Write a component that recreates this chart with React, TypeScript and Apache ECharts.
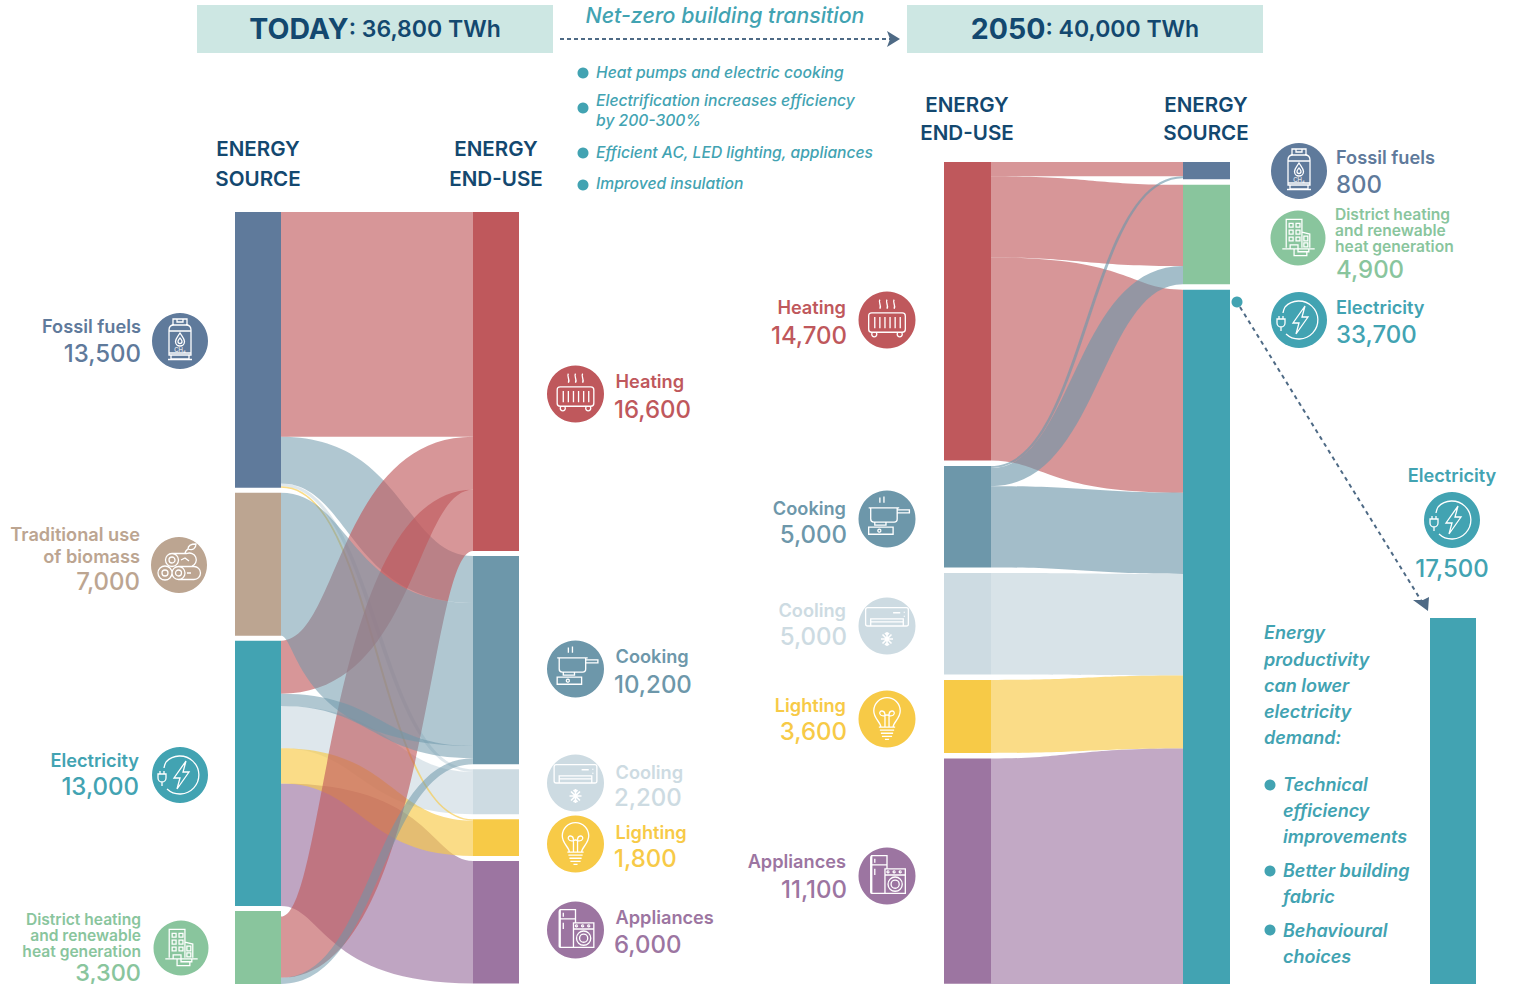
import React, { useEffect, useRef } from "react";
import * as echarts from "echarts";

const FONT = "Inter";
const NAVY = "#13486F";
const TEAL = "#42A3B2";
const ARROW = "#4E6A85";

const colors: Record<string, string> = {
  fossil: "#5F7A9B",
  biomass: "#BCA591",
  electricity: "#42A3B2",
  district: "#89C59D",
  heating: "#BF585C",
  cooking: "#6D97AA",
  cooling: "#CDDBE2",
  lighting: "#F7CA47",
  appliances: "#9C75A1",
};

const todayOpacity: Record<string, number> = {
  heating: 0.63,
  cooking: 0.54,
  cooling: 0.66,
  lighting: 0.65,
  appliances: 0.65,
};
const futureOpacity: Record<string, number> = {
  heating: 0.63,
  cooking: 0.63,
  cooling: 0.78,
  lighting: 0.65,
  appliances: 0.62,
};

// Nodes: [key, drawn height value]. The reference draws some bars a little taller than their links add up to.
const todaySourceNodes: [string, number][] = [
  ["fossil", 13500],
  ["biomass", 7000],
  ["electricity", 13000],
  ["district", 3570],
];
const todayUseNodes: [string, number][] = [
  ["heating", 16600],
  ["cooking", 10200],
  ["cooling", 2200],
  ["lighting", 1800],
  ["appliances", 6000],
];
const futureUseNodes: [string, number][] = [
  ["heating", 14700],
  ["cooking", 5000],
  ["cooling", 5000],
  ["lighting", 3600],
  ["appliances", 11100],
];
const futureSourceNodes: [string, number][] = [
  ["fossil", 850],
  ["district", 4900],
  ["electricity", 34200],
];

// Links in drawing order: later ones lie on top
const todayLinks: [string, string, number][] = [
  ["electricity", "appliances", 6000],
  ["electricity", "cooling", 2070],
  ["electricity", "lighting", 1730],
  ["fossil", "cooling", 130],
  ["fossil", "lighting", 70],
  ["fossil", "cooking", 2300],
  ["fossil", "heating", 11000],
  ["electricity", "heating", 2600],
  ["district", "heating", 3000],
  ["biomass", "cooking", 7000],
  ["electricity", "cooking", 600],
  ["district", "cooking", 300],
];
const futureLinks: [string, string, number][] = [
  ["heating", "fossil", 700],
  ["heating", "district", 4000],
  ["heating", "electricity", 10000],
  ["cooking", "fossil", 100],
  ["cooking", "district", 900],
  ["cooking", "electricity", 4000],
  ["cooling", "electricity", 5000],
  ["lighting", "electricity", 3600],
  ["appliances", "electricity", 11100],
];
// The appliances band is drawn wider than its value: it reaches the foot of the taller electricity bar
const futureBandExtra: Record<string, number> = { appliances: 500 };
// In the reference the biomass band's upper edge runs along the fossil band's lower edge
const todaySharedEdges: Record<string, string> = { "biomass>cooking": "fossil>cooking" };

const demandCategories = ["Electricity"];
const demandValues = [17500];

const bullets = [
  "Heat pumps and electric cooking",
  "Electrification increases efficiency",
  "by 200-300%",
  "Efficient AC, LED lighting, appliances",
  "Improved insulation",
];
const productivityLines = ["Energy", "productivity", "can lower", "electricity", "demand:"];
const productivityBullets = ["Technical", "efficiency", "improvements", "Better building", "fabric", "Behavioural", "choices"];

const iconPaths: Record<string, string> = {
  tank:
    "M-11 -11Q-11 -16 -6 -16H6Q11 -16 11 -11V14H-11ZM-7 -16V-22H7V-16M-3 -22V-19H3V-22M-11 -10H11M-11 12H11M-9 14V18H9V14M-12 18.5H12M0 -8C2.5 -4 4.5 -2.5 4.5 0.5A4.5 4.5 0 0 1 -4.5 0.5C-4.5 -2.5 -2.5 -4 0 -8ZM0 -3C1 -1.5 2 -1 2 0.5A2 2 0 0 1 -2 0.5C-2 -1 -1 -1.5 0 -3Z",
  logs:
    "M-7 8A7 7 0 1 1 -21 8A7 7 0 1 1 -7 8ZM-11 8A3 3 0 1 1 -17 8A3 3 0 1 1 -11 8ZM6 8A6.5 6.5 0 1 1 -7 8A6.5 6.5 0 1 1 6 8ZM2.5 8A3 3 0 1 1 -3.5 8A3 3 0 1 1 2.5 8ZM-1 1.5H15A6.5 6.5 0 0 1 15 14.5H-1M8 8H12M-0.5 -5A6.5 6.5 0 1 1 -13.5 -5A6.5 6.5 0 1 1 -0.5 -5ZM-4 -5A3 3 0 1 1 -10 -5A3 3 0 1 1 -4 -5ZM-7 -11.5H8A6 6 0 0 1 13 1M2 -5L6 -7L10 -4M6 -12C7 -15 8 -15 9 -16M9 -16C9 -20 13 -21 17 -21C17 -17 14 -14 9 -16Z",
  power:
    "M-14 -13A19 19 0 1 1 -13 14M-16 -7A19 19 0 0 1 -14 -13M6 -14L-6 3H0L-3 14L9 -3H3ZM-22 -1H-14V3A4 4 0 0 1 -22 3ZM-20 -1V-4M-16 -1V-4M-18 7V11",
  building:
    "M-12 10V-19H4V10M-9 -15H-5V-11H-9ZM-2 -15H2V-11H-2ZM-9 -8H-5V-4H-9ZM-2 -8H2V-4H-2ZM-9 -1H-5V3H-9ZM-2 -1H2V3H-2ZM4 -6L12 -4V10M6 -2H10V3H6ZM6 5H10V9H6ZM-16 11H17M-8 11V7H0V14H11V11M-4 11V18H9V14",
  radiator:
    "M-15 -7H15Q18 -7 18 -4V9Q18 12 15 12H-15Q-18 12 -18 9V-4Q-18 -7 -15 -7ZM-12 -3V8M-7 -3V8M-2 -3V8M3 -3V8M8 -3V8M13 -3V8M-14 12A2.5 2.5 0 1 0 -11 12M11 12A2.5 2.5 0 1 0 14 12M-7 -20C-9 -17 -5 -15 -7 -11M0 -20C-2 -17 2 -15 0 -11M7 -20C5 -17 9 -15 7 -11",
  stove:
    "M-16 -11H10V0Q10 3 7 3H-13Q-16 3 -16 0ZM-18 -11H12M10 -9H22V-6H10M-7 -21V-16M-3 -22V-16M-18 8H6V15H-18ZM-12 3V6H-1V3M-6 11.5A1.5 1.5 0 1 1 -6 11.4",
  ac:
    "M-19 -18H19Q21 -18 21 -16V-2Q21 0 19 0H-19Q-21 0 -21 -2V-16Q-21 -18 -19 -18ZM-16 0V-7H16V0M-16 -4H16M6 -13H13M17 -14V-13M17 -10V-9",
  bulb:
    "M-6 8C-6 3 -13 0 -13 -8A13 13 0 0 1 13 -8C13 0 6 3 6 8ZM-2 8V-4C-2 -9 -8 -9 -7 -5C-6 -2 -2 -3 0 -4C2 -3 6 -2 7 -5C8 -9 2 -9 2 -4V8M-8 8H8M-7 11H7M-6 14H6M-5 17H5M-2 20H2",
  appliances:
    "M-15 -20H0V-11H-15ZM-15 -11V17H-2M-15 -20Q-16 -20 -16 -18V16Q-16 17 -15 17M0 -20V-7M-12 -17V-13M-12 -7V-1M-2 -7H18V17H-2ZM-2 -1H18M2 -4A1 1 0 1 1 2 -4.1M8 -4A1 1 0 1 1 8 -4.1M14 -4A1 1 0 1 1 14 -4.1M15 8A7 7 0 1 1 1 8A7 7 0 1 1 15 8ZM12 8A4 4 0 1 1 4 8A4 4 0 1 1 12 8Z",
};
const snowflake = "M0 6V20M-6 13H6M-4.5 8.5L4.5 17.5M-4.5 17.5L4.5 8.5M-2 7L0 9L2 7M-2 19L0 17L2 19";

Object.keys(iconPaths).forEach((k) => {
  echarts.graphic.registerShape("ico_" + k, echarts.graphic.extendPath(iconPaths[k], {}));
});
echarts.graphic.registerShape("ico_snow", echarts.graphic.extendPath(snowflake, {}));

const txt = (
  text: string,
  x: number,
  y: number,
  fontSize: number,
  fill: string,
  align = "left",
  fontWeight: any = 500,
  fontStyle = "normal"
) => ({
  type: "text",
  x,
  y,
  silent: true,
  style: { text, fontFamily: FONT, fontSize, fill, align, verticalAlign: "middle", fontWeight, fontStyle },
});
const NAME_SIZE = 18.2;
const NAME_WEIGHT = 600;
const name = (text: string, x: number, y: number, fill: string, align = "left") =>
  txt(text, x, y, NAME_SIZE, fill, align, NAME_WEIGHT);
const small = (text: string, x: number, y: number, fill: string, align = "left") =>
  txt(text, x, y, 15.6, fill, align, 600);

const icon = (key: string, ic: string, x: number, y: number, r = 28) => {
  const c = colors[key];
  const s = r / 28;
  const stroke = { fill: "none", stroke: "#fff", lineWidth: 1.3 };
  const els: any[] = [
    { type: "circle", shape: { cx: x, cy: y, r }, style: { fill: c }, silent: true },
    { type: "ico_" + ic, x, y, scaleX: s, scaleY: s, style: stroke, silent: true },
  ];
  if (ic === "tank") els.push(txt("CH₄", x, y + 8, 6, "#fff", "center", 400));
  if (ic === "ac") els.push({ type: "ico_snow", x, y, style: { fill: "none", stroke: "#fff", lineWidth: 1.6 }, silent: true });
  return els;
};

const dot = (cx: number, cy: number, r = 5) => ({
  type: "circle",
  shape: { cx, cy, r },
  style: { fill: TEAL },
  silent: true,
});

const buildGraphics = () => {
  const els: any[] = [];
  const band = (x: number) => ({
    type: "rect",
    shape: { x, y: 5, width: 356, height: 48 },
    style: { fill: "#CDE7E3" },
    silent: true,
  });
  const head = (a: string, b: string, x: number) => ({
    type: "text",
    x,
    y: 28.5,
    silent: true,
    style: {
      text: `{a|${a}}{b|: ${b}}`,
      align: "center",
      verticalAlign: "middle",
      rich: {
        a: { fontFamily: FONT, fontSize: 28.5, fontWeight: 700, fill: NAVY, color: NAVY },
        b: { fontFamily: FONT, fontSize: 23, fontWeight: 600, fill: NAVY, color: NAVY },
      },
    },
  });
  els.push(band(197), band(907), head("TODAY", "36,800 TWh", 375), head("2050", "40,000 TWh", 1085));

  els.push(txt("Net-zero building transition", 725, 15, 21.3, TEAL, "center", 500, "italic"));
  els.push({ type: "line", shape: { x1: 560, y1: 39, x2: 890, y2: 39 }, style: { stroke: ARROW, lineWidth: 2, lineDash: [4, 3] }, silent: true });
  els.push({ type: "polygon", shape: { points: [[887, 31], [900, 39], [887, 47], [890, 39]] }, style: { fill: ARROW }, silent: true });

  // Transition notes
  const bulletY = [72.5, 100, 120, 152, 183.5];
  bullets.forEach((b, i) => els.push(txt(b, 596, bulletY[i], 15.65, TEAL, "left", 500, "italic")));
  [73, 108, 153, 185].forEach((y) => els.push(dot(583, y, 5.5)));

  // Column headers
  const columns: [string, string, number, number, number][] = [
    ["ENERGY", "SOURCE", 258, 148.5, 29.5],
    ["ENERGY", "END-USE", 496, 148.5, 29.5],
    ["ENERGY", "END-USE", 967, 104, 28],
    ["ENERGY", "SOURCE", 1206, 104, 28],
  ];
  columns.forEach(([a, b, x, y, lead]) => {
    els.push(txt(a, x, y, 20.6, NAVY, "center", 600), txt(b, x, y + lead, 20.6, NAVY, "center", 600));
  });

  // Today: sources
  els.push(name("Fossil fuels", 141, 326, colors.fossil, "right"), txt("13,500", 141, 353, 24, colors.fossil, "right"));
  els.push(...icon("fossil", "tank", 180, 341));
  els.push(
    name("Traditional use", 140, 533.5, colors.biomass, "right"),
    name("of biomass", 140, 555.5, colors.biomass, "right"),
    txt("7,000", 140, 581.5, 24, colors.biomass, "right")
  );
  els.push(...icon("biomass", "logs", 179, 565));
  els.push(name("Electricity", 139, 760, colors.electricity, "right"), txt("13,000", 139, 786, 24, colors.electricity, "right"));
  els.push(...icon("electricity", "power", 180, 775));
  els.push(
    small("District heating", 141, 919, colors.district, "right"),
    small("and renewable", 141, 935, colors.district, "right"),
    small("heat generation", 141, 951, colors.district, "right"),
    txt("3,300", 141, 972.5, 23.5, colors.district, "right")
  );
  els.push(...icon("district", "building", 181, 948, 27.5));

  // Today: end uses
  const midRows: [string, string, string, string, number, number, number][] = [
    ["heating", "radiator", "Heating", "16,600", 394, 381, 409],
    ["cooking", "stove", "Cooking", "10,200", 669, 656, 684],
    ["cooling", "ac", "Cooling", "2,200", 783, 772, 797],
    ["lighting", "bulb", "Lighting", "1,800", 844, 832, 858],
    ["appliances", "appliances", "Appliances", "6,000", 930, 917, 944],
  ];
  midRows.forEach(([k, ic, label, val, cy, y1, y2]) => {
    els.push(...icon(k, ic, 575.5, cy, 28.5));
    els.push(name(label, 615.5, y1, colors[k]), txt(val, 614, y2, 24, colors[k]));
  });

  // 2050: end uses
  const rightRows: [string, string, string, string, number, number, number][] = [
    ["heating", "radiator", "Heating", "14,700", 320, 307, 335],
    ["cooking", "stove", "Cooking", "5,000", 519, 508, 534],
    ["cooling", "ac", "Cooling", "5,000", 626, 610, 636],
    ["lighting", "bulb", "Lighting", "3,600", 719, 705, 731],
    ["appliances", "appliances", "Appliances", "11,100", 876, 861, 889],
  ];
  rightRows.forEach(([k, ic, label, val, cy, y1, y2]) => {
    els.push(...icon(k, ic, 887, cy, 28.5));
    els.push(name(label, 846, y1, colors[k], "right"), txt(val, 847, y2, 24, colors[k], "right"));
  });

  // 2050: sources
  els.push(...icon("fossil", "tank", 1299, 171));
  els.push(name("Fossil fuels", 1336, 157, colors.fossil), txt("800", 1336, 184, 24, colors.fossil));
  els.push(...icon("district", "building", 1298, 238, 27.5));
  els.push(
    small("District heating", 1335, 214, colors.district),
    small("and renewable", 1335, 230, colors.district),
    small("heat generation", 1335, 246, colors.district),
    txt("4,900", 1336, 269, 24, colors.district)
  );
  els.push(...icon("electricity", "power", 1299, 320));
  els.push(name("Electricity", 1336, 307, colors.electricity), txt("33,700", 1336, 334, 24, colors.electricity));

  // Dashed pointer to the productivity bar
  els.push(dot(1237, 302, 5.5));
  els.push({ type: "line", shape: { x1: 1240, y1: 307, x2: 1422, y2: 602 }, style: { stroke: ARROW, lineWidth: 2, lineDash: [4, 4] }, silent: true });
  els.push({ type: "polygon", shape: { points: [[1413, 600], [1423, 600], [1429, 597], [1428, 611]] }, style: { fill: ARROW }, silent: true });

  els.push(name("Electricity", 1452, 475, TEAL, "center"), txt("17,500", 1452, 568, 24, TEAL, "center"));
  els.push(...icon("electricity", "power", 1452, 520));

  const prodY = [632, 659, 685, 711, 737];
  productivityLines.forEach((l, i) => els.push(txt(l, 1264, prodY[i], 18, TEAL, "left", 600, "italic")));
  const bulletLineY = [784, 810, 836, 870, 896, 930, 956];
  productivityBullets.forEach((l, i) => els.push(txt(l, 1283, bulletLineY[i], 18, TEAL, "left", 600, "italic")));
  [785, 871, 930].forEach((y) => els.push(dot(1270, y, 5.5)));

  return els;
};

const nodeData = (nodes: [string, number][], suffix: string) =>
  nodes.map(([key, value]) => ({
    name: key + suffix,
    value,
    itemStyle: { color: colors[key], opacity: 1, borderWidth: 0 },
  }));

// The sankey lays out and draws the bars; its own links stay invisible, since the
// reference's bands fatten where they run steeply, which the sankey's links cannot do.
const sankey = (
  left: number,
  top: number,
  width: number,
  height: number,
  nodeWidth: number,
  nodeGap: number,
  first: [string, number][],
  second: [string, number][],
  links: [string, string, number][]
) => ({
  type: "sankey",
  z: 3,
  left,
  top,
  width,
  height,
  nodeWidth,
  nodeGap,
  layoutIterations: 0,
  draggable: false,
  silent: true,
  roam: false,
  label: { show: false },
  emphasis: { disabled: true },
  data: [...nodeData(first, "_a"), ...nodeData(second, "_b")],
  links: links.map((l) => ({
    source: l[0] + "_a",
    target: l[1] + "_b",
    value: l[2],
    lineStyle: { opacity: 0 },
  })),
});

const BAND_FATTEN = 1.28;

const bands = (
  left: number,
  top: number,
  width: number,
  height: number,
  nodeWidth: number,
  nodeGap: number,
  first: [string, number][],
  second: [string, number][],
  links: [string, string, number][],
  useKeyIndex: 0 | 1,
  opacity: Record<string, number>,
  extra: Record<string, number>,
  sharedEdges: Record<string, string>
) => {
  const sum = (n: [string, number][]) => n.reduce((s, e) => s + e[1], 0);
  const ky = Math.min(
    (height - (first.length - 1) * nodeGap) / sum(first),
    (height - (second.length - 1) * nodeGap) / sum(second)
  );
  const tops = (nodes: [string, number][]) => {
    const out: Record<string, number> = {};
    let y = top;
    nodes.forEach(([k, v]) => {
      out[k] = y;
      y += v * ky + nodeGap;
    });
    return out;
  };
  const topA = tops(first);
  const topB = tops(second);
  const orderA = first.map((n) => n[0]);
  const orderB = second.map((n) => n[0]);
  const drawn = (l: [string, string, number]) => l[2] + (extra[l[useKeyIndex]] || 0);

  // Where a bar is taller than its links, the links sit at its foot
  const stackA: Record<string, number> = {};
  first.forEach(([k, v]) => {
    const used = links.filter((l) => l[0] === k).reduce((s, l) => s + l[2], 0);
    stackA[k] = topA[k] + Math.max(0, v - used) * ky;
  });
  const stackB: Record<string, number> = { ...topB };

  const yA = new Map<any, number>();
  const yB = new Map<any, number>();
  [...links]
    .sort((a, b) => orderB.indexOf(a[1]) - orderB.indexOf(b[1]))
    .forEach((l) => {
      yA.set(l, stackA[l[0]]);
      stackA[l[0]] += drawn(l) * ky;
    });
  [...links]
    .sort((a, b) => orderA.indexOf(a[0]) - orderA.indexOf(b[0]))
    .forEach((l) => {
      yB.set(l, stackB[l[1]]);
      stackB[l[1]] += drawn(l) * ky;
    });

  const x1 = left + nodeWidth;
  const x2 = left + width - nodeWidth;
  const mid = (x1 + x2) / 2;

  // Sideways spread of a band's edges, as a band of constant true thickness would have
  const spreadOf = (l: [string, string, number]) => {
    const w = drawn(l) * ky;
    const slope = (1.5 * ((yB.get(l) as number) - (yA.get(l) as number))) / (x2 - x1);
    const sin = slope / Math.sqrt(1 + slope * slope);
    return Math.max(-(mid - x1) * 0.9, Math.min((mid - x1) * 0.9, (BAND_FATTEN * (w / 2) * sin) / 0.75));
  };

  return {
    type: "custom",
    z: 2,
    coordinateSystem: "none",
    silent: true,
    clip: false,
    data: links.map((l) => l[2]),
    renderItem: (params: any) => {
      const l = links[params.dataIndex];
      const key = l[useKeyIndex];
      const w = drawn(l) * ky;
      const a = yA.get(l) as number;
      const b = yB.get(l) as number;
      const spread = spreadOf(l);
      const shared = sharedEdges[`${l[0]}>${l[1]}`];
      const partner = shared ? links.find((o) => `${o[0]}>${o[1]}` === shared) : undefined;
      const topX = partner ? mid - spreadOf(partner) : mid + spread;
      const botX = mid - spread;
      const d =
        `M${x1} ${a}C${topX} ${a} ${topX} ${b} ${x2} ${b}` +
        `V${b + w}C${botX} ${b + w} ${botX} ${a + w} ${x1} ${a + w}Z`;
      return {
        type: "path",
        shape: { pathData: d },
        style: { fill: colors[key], opacity: opacity[key], stroke: "none" },
      };
    },
  };
};

export default function App() {
  const ref = useRef<HTMLDivElement>(null);
  useEffect(() => {
    const chart = echarts.init(ref.current!, undefined, { renderer: "svg" });
    chart.setOption({
      animation: false,
      backgroundColor: "#fff",
      textStyle: { fontFamily: FONT },
      grid: { left: 1430, top: 618, width: 46, height: 366 },
      xAxis: { type: "category", data: demandCategories, show: false },
      yAxis: { type: "value", min: 0, max: 17500, show: false },
      series: [
        bands(235, 212, 284, 772, 46, 5, todaySourceNodes, todayUseNodes, todayLinks, 1, todayOpacity, {}, todaySharedEdges),
        bands(944, 162, 286, 822, 47, 5.5, futureUseNodes, futureSourceNodes, futureLinks, 0, futureOpacity, futureBandExtra, {}),
        sankey(235, 212, 284, 772, 46, 5, todaySourceNodes, todayUseNodes, todayLinks),
        sankey(944, 162, 286, 822, 47, 5.5, futureUseNodes, futureSourceNodes, futureLinks),
        {
          type: "bar",
          data: demandValues,
          barWidth: 46,
          silent: true,
          itemStyle: { color: TEAL },
        },
      ],
      graphic: { elements: buildGraphics() },
    });
    return () => chart.dispose();
  }, []);
  return <div ref={ref} style={{ position: "fixed", left: 0, top: 0, width: 1515, height: 984 }} />;
}
